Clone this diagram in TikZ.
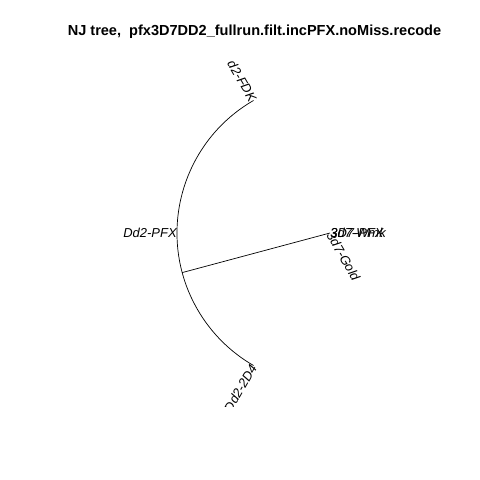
\documentclass[tikz,border=0pt]{standalone}
\usepackage{fontspec}
\setmainfont{Liberation Sans}
\usetikzlibrary{calc}
\begin{document}
\begin{tikzpicture}[x=1bp,y=1bp,line width=0.7bp,
  lab/.style={font=\fontsize{13}{13}\selectfont\itshape, inner sep=0pt, text height=9.3bp, text depth=0pt},
  ttl/.style={font=\fontsize{14.6}{17}\selectfont\bfseries, inner sep=0pt, anchor=base}]
\useasboundingbox (0,0) rectangle (480,480);
\node[ttl] (title) at (254.5,444.5) {NJ tree,\ \ pfx3D7DD2\_fullrun.filt.incPFX.noMiss.recode};
\begin{scope}
\clip (59,73) rectangle (450,421);
\coordinate (c) at (330,247);
\coordinate (tFDK) at ($(c)+(120:153)$);
\coordinate (tPFX) at ($(c)+(180:153)$);
\coordinate (t2D4) at ($(c)+(240:153)$);
\coordinate (n1) at ($(c)+(195:153)$);
\draw (tFDK) arc[start angle=120, end angle=240, radius=153];
\draw (c) -- (n1);
\node[lab, rotate=-60, anchor=east] (lFDK) at (tFDK) {d2-FDK};
\node[lab, anchor=east] (lPFX) at (tPFX) {Dd2-PFX};
\node[lab, rotate=60, anchor=east] (l2D4) at (t2D4) {Dd2-2D4};
\node[lab, anchor=west] (l3PFX) at (c) {3D7-PFX};
\node[lab, anchor=west] (l3Wmk) at (c) {3d7-Wmk};
\node[lab, rotate=-60, anchor=west] (l3Gold) at (c) {3d7-Gold};
\end{scope}
\end{tikzpicture}
\end{document}
